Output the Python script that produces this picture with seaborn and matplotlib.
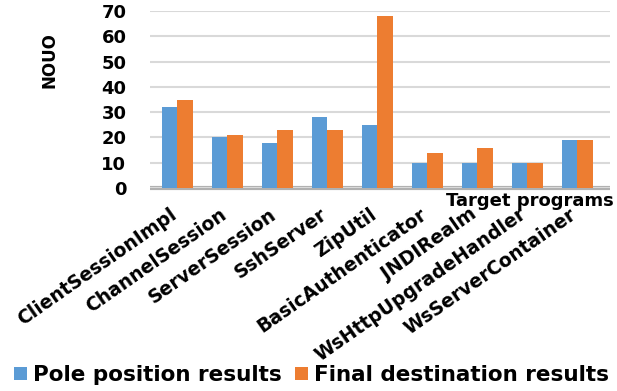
import matplotlib
matplotlib.use("Agg")
import matplotlib.pyplot as plt
import matplotlib.transforms as mtransforms
import seaborn as sns
import pandas as pd

programs = ["ClientSessionImpl", "ChannelSession", "ServerSession", "SshServer", "ZipUtil",
            "BasicAuthenticator", "JNDIRealm", "WsHttpUpgradeHandler", "WsServerContainer"]
pole = [32, 20, 18, 28, 25, 10, 10, 10, 19]
final = [35, 21, 23, 23, 68, 14, 16, 10, 19]
series = ["Pole position results", "Final destination results"]
yticks = [0, 10, 20, 30, 40, 50, 60, 70]

df = pd.DataFrame({
    "program": programs * 2,
    "value": pole + final,
    "series": [series[0]] * len(programs) + [series[1]] * len(programs),
})

sns.set_theme(style="white")
plt.rcParams["font.family"] = ["DejaVu Sans"]
plt.rcParams["font.weight"] = "bold"
plt.rcParams["text.color"] = "black"
plt.rcParams["xtick.color"] = "black"
plt.rcParams["ytick.color"] = "black"
plt.rcParams["axes.labelcolor"] = "black"

fig = plt.figure(figsize=(6.17, 3.91), dpi=100)
ax = fig.add_axes([0.2431, 0.519, 0.7455, 0.453])

sns.barplot(data=df, x="program", y="value", hue="series", order=programs,
            hue_order=series, palette=["#5B9BD5", "#ED7D31"], width=0.62,
            saturation=1, ax=ax, legend=True, edgecolor="none")

ax.set_ylim(0, 70)
ax.set_yticks(yticks)
ax.set_xlim(-0.55, len(programs) - 0.35)
ax.yaxis.grid(True, color="#d9d9d9", linewidth=1.5)
ax.set_axisbelow(True)
for s in ax.spines.values():
    s.set_visible(False)
ax.tick_params(axis="y", length=0, pad=17)
ax.tick_params(axis="x", length=0, pad=12)
for lab in ax.get_yticklabels():
    lab.set_fontsize(13)
    lab.set_fontweight("bold")
ax.set_xticks(range(len(programs)))
ax.set_xticklabels(programs, rotation=35, ha="right", va="top", rotation_mode="anchor",
                   fontsize=13.5, fontweight="bold")
shift = mtransforms.ScaledTranslation(-6 / 72, 0, fig.dpi_scale_trans)
for lab in ax.get_xticklabels():
    lab.set_transform(lab.get_transform() + shift)

ax.set_ylabel("NOUO", fontsize=12, fontweight="bold")
ax.yaxis.set_label_coords(-0.198, 0.72)
ax.set_xlabel("")
ax.text(1.008, -0.02, "Target programs", transform=ax.transAxes, ha="right", va="top",
        fontsize=13, fontweight="bold")
ax.axhline(0, color="#b0b0b0", linewidth=3, zorder=0, clip_on=False, solid_capstyle="butt")

handles, labels = ax.get_legend_handles_labels()
ax.get_legend().remove()
fig.legend(handles, labels, loc="center", bbox_to_anchor=(0.505, 1 - 375 / 391), ncol=2,
           frameon=False, prop={"size": 15.5, "weight": "bold"}, handlelength=0.6,
           handleheight=0.6, handletextpad=0.3, columnspacing=0.6, borderpad=0)

fig.savefig("out.png", dpi=100)
